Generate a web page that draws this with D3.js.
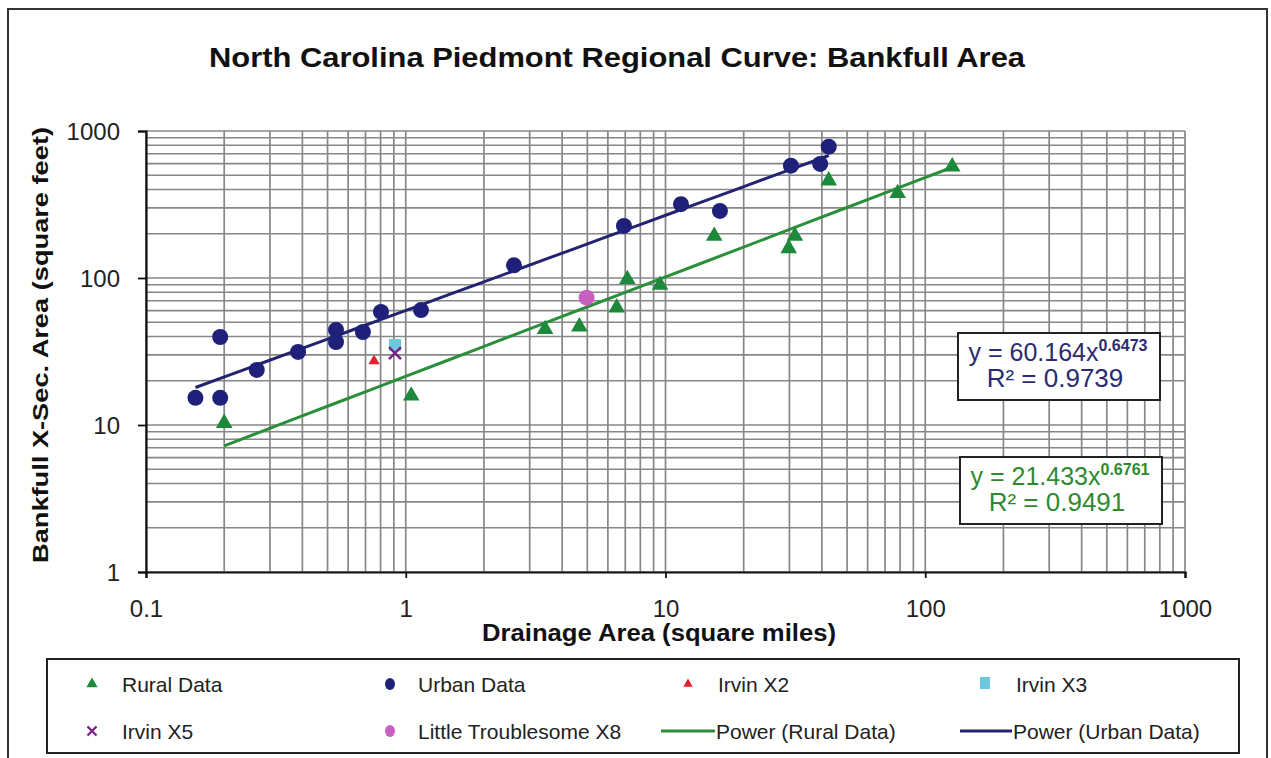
<!DOCTYPE html>
<html>
<head>
<meta charset="utf-8">
<script src="https://cdn.jsdelivr.net/npm/d3@7"></script>
<style>
  html, body { margin: 0; padding: 0; background: #ffffff; }
  svg { display: block; font-family: "Liberation Sans", Arial, sans-serif; }
</style>
</head>
<body>
<svg id="chart" width="1271" height="758"></svg>
<script>
// Rural gauge sites: drainage area (sq mi) and bankfull cross-section area (sq ft)
const ruralArea = [0.2, 1.05, 3.44, 4.66, 6.49, 7.13, 9.53, 15.4, 29.8, 31.5, 42.5, 78.3, 127];
const ruralXsec = [10.3, 15.8, 44.8, 46.7, 62.9, 98, 89.6, 193, 159, 193, 459, 377, 572];

// Urban gauge sites
const urbanArea = [0.155, 0.193, 0.193, 0.267, 0.385, 0.539, 0.539, 0.684, 0.803, 1.145, 2.61, 6.92, 11.47, 16.2, 30.4, 39.4, 42.5];
const urbanXsec = [15.3, 15.3, 39.7, 23.7, 31.4, 44.3, 36.7, 42.9, 58.8, 60.5, 122, 226, 318, 286, 581, 597, 782];

// Individual reference reaches
const irvinX2 = [0.755, 27.2];
const irvinX3 = [0.909, 35.0];
const irvinX5 = [0.909, 30.8];
const littleTroublesomeX8 = [4.97, 73.5];

// Power-law fits y = a * x^b
const urbanFit = { a: 60.164, b: 0.6473, r2: "0.9739" };
const ruralFit = { a: 21.433, b: 0.6761, r2: "0.9491" };

// Axis ticks
const xTicks = [0.1, 1, 10, 100, 1000];
const yTicks = [1, 10, 100, 1000];
const xTickLabels = ["0.1", "1", "10", "100", "1000"];
const yTickLabels = ["1", "10", "100", "1000"];

const svg = d3.select("#chart");
const plotL = 146, plotR = 1185, plotT = 131, plotB = 572;

const x = d3.scaleLog().domain([0.1, 1000]).range([plotL, plotR]);
const y = d3.scaleLog().domain([1, 1000]).range([plotB, plotT]);

const C = {
  urban: "#1e2079",
  urbanLine: "#23246f",
  rural: "#1c8a3a",
  ruralLine: "#2a8e3a",
  red: "#e6202a",
  cyan: "#6cc8dc",
  purple: "#7a2488",
  pink: "#c95fc0",
  grid: "#878787"
};

// Outer chart frame
svg.append("rect")
  .attr("x", 8).attr("y", 9).attr("width", 1259).attr("height", 770)
  .attr("fill", "#fff").attr("stroke", "#333").attr("stroke-width", 2);

// Title
svg.append("text")
  .attr("x", 617).attr("y", 67)
  .attr("text-anchor", "middle")
  .attr("font-size", 28).attr("font-weight", "bold").attr("fill", "#111")
  .attr("textLength", 816).attr("lengthAdjust", "spacingAndGlyphs")
  .text("North Carolina Piedmont Regional Curve: Bankfull Area");

// Log grid (1..9 per decade)
const minor = (lo, hi) => {
  const v = [];
  for (let e = Math.round(Math.log10(lo)); e < Math.round(Math.log10(hi)); e++) {
    for (let k = 1; k <= 9; k++) v.push(k * Math.pow(10, e));
  }
  v.push(hi);
  return v;
};
const grid = svg.append("g");
grid.selectAll("line.v").data(minor(0.1, 1000)).join("line").attr("class", "v")
  .attr("x1", d => x(d)).attr("x2", d => x(d))
  .attr("y1", plotT).attr("y2", plotB)
  .attr("stroke", C.grid).attr("stroke-width", 1.7);
grid.selectAll("line.h").data(minor(1, 1000)).join("line").attr("class", "h")
  .attr("y1", d => y(d)).attr("y2", d => y(d))
  .attr("x1", plotL).attr("x2", plotR)
  .attr("stroke", C.grid).attr("stroke-width", 1.7);

// Axes
const yAxis = svg.append("g").attr("transform", `translate(${plotL},0)`)
  .call(d3.axisLeft(y).tickValues(yTicks).tickSize(8).tickPadding(18)
    .tickFormat((d, i) => yTickLabels[i]));
const xAxis = svg.append("g").attr("transform", `translate(0,${plotB})`)
  .call(d3.axisBottom(x).tickValues(xTicks).tickSize(6).tickPadding(22)
    .tickFormat((d, i) => xTickLabels[i]));
[yAxis, xAxis].forEach(g => {
  g.select(".domain").attr("stroke", "#111").attr("stroke-width", 2.2);
  g.selectAll(".tick line").attr("stroke", "#111").attr("stroke-width", 1.8);
  g.selectAll(".tick text").attr("font-size", 24).attr("fill", "#222")
    .attr("font-family", "Liberation Sans, Arial, sans-serif");
});
yAxis.selectAll(".tick text").attr("dy", "0.36em");

// Axis titles
svg.append("text")
  .attr("transform", "translate(48,345) rotate(-90)")
  .attr("text-anchor", "middle")
  .attr("font-size", 22).attr("font-weight", "bold").attr("fill", "#111")
  .attr("textLength", 436).attr("lengthAdjust", "spacingAndGlyphs")
  .text("Bankfull X-Sec. Area (square feet)");
svg.append("text")
  .attr("x", 659).attr("y", 641)
  .attr("text-anchor", "middle")
  .attr("font-size", 23).attr("font-weight", "bold").attr("fill", "#111")
  .attr("textLength", 354).attr("lengthAdjust", "spacingAndGlyphs")
  .text("Drainage Area (square miles)");

// Power trendlines across each data set's range
const fitLine = (fit, xs) => {
  const lo = d3.min(xs), hi = d3.max(xs);
  const pts = d3.range(0, 21).map(i => lo * Math.pow(hi / lo, i / 20));
  return d3.line().x(d => x(d)).y(d => y(fit.a * Math.pow(d, fit.b)))(pts);
};
svg.append("path").attr("d", fitLine(ruralFit, ruralArea))
  .attr("fill", "none").attr("stroke", C.ruralLine).attr("stroke-width", 3);
svg.append("path").attr("d", fitLine(urbanFit, urbanArea))
  .attr("fill", "none").attr("stroke", C.urbanLine).attr("stroke-width", 3);

// Points
const rural = d3.zip(ruralArea, ruralXsec);
const urban = d3.zip(urbanArea, urbanXsec);

svg.append("g").selectAll("path").data(rural).join("path")
  .attr("d", d3.symbol().type(d3.symbolTriangle).size(120)())
  .attr("transform", d => `translate(${x(d[0])},${y(d[1])})`)
  .attr("fill", C.rural);

svg.append("g").selectAll("circle").data(urban).join("circle")
  .attr("cx", d => x(d[0])).attr("cy", d => y(d[1])).attr("r", 8)
  .attr("fill", C.urban);

svg.append("path").attr("d", d3.symbol().type(d3.symbolTriangle).size(55)())
  .attr("transform", `translate(${x(irvinX2[0])},${y(irvinX2[1])})`)
  .attr("fill", C.red);

svg.append("rect")
  .attr("x", x(irvinX3[0]) - 6).attr("y", y(irvinX3[1]) - 6)
  .attr("width", 12).attr("height", 12).attr("fill", C.cyan);

const xMark = (g, cx, cy, s, w) => {
  g.append("path")
    .attr("d", `M${cx - s},${cy - s}L${cx + s},${cy + s}M${cx - s},${cy + s}L${cx + s},${cy - s}`)
    .attr("stroke", C.purple).attr("stroke-width", w).attr("fill", "none");
};
xMark(svg, x(irvinX5[0]), y(irvinX5[1]), 6, 2.6);

svg.append("circle")
  .attr("cx", x(littleTroublesomeX8[0])).attr("cy", y(littleTroublesomeX8[1])).attr("r", 8)
  .attr("fill", C.pink);

// Equation boxes
const eqBox = (fit, bx, by, color) => {
  const g = svg.append("g");
  g.append("rect").attr("x", bx).attr("y", by).attr("width", 202).attr("height", 67)
    .attr("fill", "#fff").attr("stroke", "#222").attr("stroke-width", 2);
  const t = g.append("text").attr("x", bx + 100).attr("y", by + 28)
    .attr("text-anchor", "middle").attr("font-size", 25).attr("fill", color);
  t.append("tspan").text(`y = ${fit.a.toFixed(3)}x`);
  t.append("tspan").attr("dy", -10).attr("font-size", 16).attr("font-weight", "bold")
    .text(fit.b.toFixed(4));
  g.append("text").attr("x", bx + 97).attr("y", by + 54)
    .attr("text-anchor", "middle").attr("font-size", 26).attr("fill", color)
    .text(`R² = ${fit.r2}`);
};
eqBox(urbanFit, 958, 333, "#2b2b72");
eqBox(ruralFit, 960, 457, "#2f8a2f");

// Legend
const lg = svg.append("g");
lg.append("rect").attr("x", 47).attr("y", 659).attr("width", 1192).attr("height", 94)
  .attr("fill", "#fff").attr("stroke", "#222").attr("stroke-width", 2);
const row1 = 684, row2 = 731;
const legendText = (tx, ty, s) => lg.append("text").attr("x", tx).attr("y", ty)
  .attr("dy", "0.36em").attr("font-size", 21).attr("fill", "#222").text(s);

lg.append("path").attr("d", d3.symbol().type(d3.symbolTriangle).size(55)())
  .attr("transform", `translate(92,${row1})`).attr("fill", C.rural);
legendText(122, row1, "Rural Data");

lg.append("ellipse").attr("cx", 390).attr("cy", row1).attr("rx", 5).attr("ry", 6).attr("fill", C.urban);
legendText(418, row1, "Urban Data");

lg.append("path").attr("d", d3.symbol().type(d3.symbolTriangle).size(38)())
  .attr("transform", `translate(688,${row1})`).attr("fill", C.red);
legendText(718, row1, "Irvin X2");

lg.append("rect").attr("x", 980).attr("y", row1 - 7).attr("width", 10).attr("height", 12).attr("fill", C.cyan);
legendText(1016, row1, "Irvin X3");

xMark(lg, 92, row2, 4.5, 2.4);
legendText(122, row2, "Irvin X5");

lg.append("ellipse").attr("cx", 390).attr("cy", row2).attr("rx", 5).attr("ry", 6).attr("fill", C.pink);
legendText(418, row2, "Little Troublesome X8");

lg.append("line").attr("x1", 661).attr("x2", 715).attr("y1", row2).attr("y2", row2)
  .attr("stroke", C.ruralLine).attr("stroke-width", 3);
legendText(716, row2, "Power (Rural Data)");

lg.append("line").attr("x1", 960).attr("x2", 1012).attr("y1", row2).attr("y2", row2)
  .attr("stroke", C.urbanLine).attr("stroke-width", 3);
legendText(1013, row2, "Power (Urban Data)");
</script>
</body>
</html>
